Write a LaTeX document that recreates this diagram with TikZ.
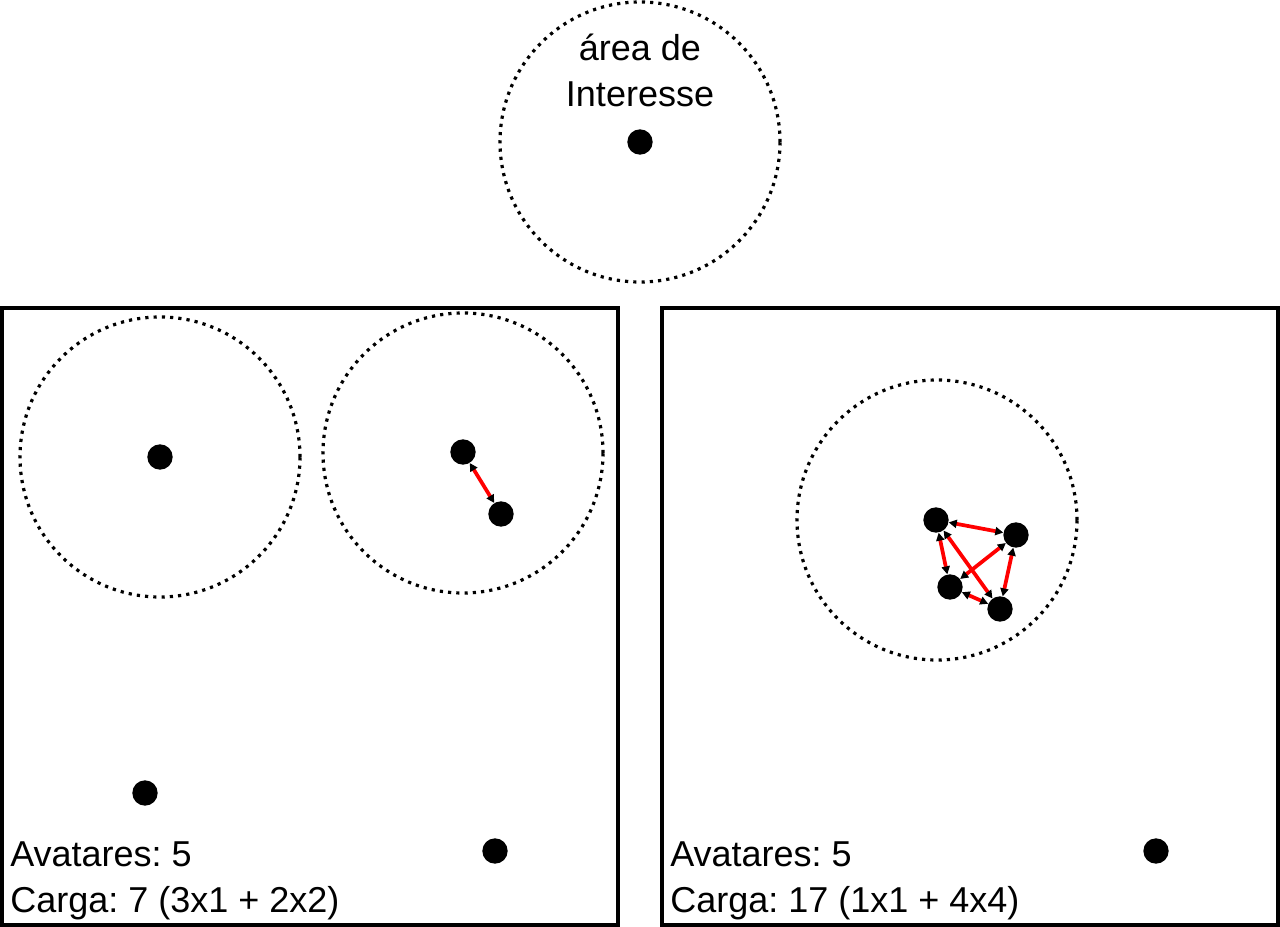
\documentclass[tikz,border=0pt]{standalone}
\usepackage{fontspec}
\setmainfont{Liberation Sans}
\frenchspacing
\usetikzlibrary{arrows.meta,positioning}

\tikzset{
  avatar/.style={circle,fill=black,minimum size=19pt,inner sep=0pt},
  aoi/.style={draw=black,line width=2.4pt,dash pattern=on 2.4pt off 3.8pt},
  caixa/.style={draw=black,line width=2.6pt},
  troca/.style={red,line width=2.8pt,{Triangle[black,length=6pt,width=6pt]}-{Triangle[black,length=6pt,width=6pt]}},
  rotulo/.style={anchor=base west,inner sep=0pt,font=\fontsize{27}{32}\selectfont}
}

\begin{document}
\begin{tikzpicture}[x=0.75pt,y=-0.75pt]
  \useasboundingbox (0,0) rectangle (1280,927);

  % legenda
  \draw[aoi] (640,142) circle[radius=105pt];
  \node[avatar] (c0) at (640,142) {};
  \node[rotulo,anchor=base] (t1) at (640,61) {área de};
  \node[rotulo,anchor=base] (t2) at (640,107) {Interesse};

  % caixa esquerda
  \draw[caixa] (2,308) rectangle (618,925);
  \draw[aoi] (160,457) circle[radius=105pt];
  \draw[aoi] (463,453) circle[radius=105pt];
  \node[avatar] (l1) at (160,457) {};
  \node[avatar] (l2) at (463,452) {};
  \node[avatar] (l3) at (501,514) {};
  \node[avatar] (l4) at (145,793) {};
  \node[avatar] (l5) at (495,851) {};
  \draw[troca] (l2) -- (l3);
  \node[rotulo] (la) at (10,866) {Avatares: 5};
  \node[rotulo] (lb) at (10,912) {Carga: 7 (3x1 + 2x2)};

  % caixa direita
  \draw[caixa] (662,308) rectangle (1278,925);
  \draw[aoi] (937,520) circle[radius=105pt];
  \node[avatar] (r1) at (936,520) {};
  \node[avatar] (r2) at (1016,535) {};
  \node[avatar] (r3) at (950,587) {};
  \node[avatar] (r4) at (1000,609) {};
  \node[avatar] (r5) at (1156,851) {};
  \draw[troca] (r1) -- (r2);
  \draw[troca] (r1) -- (r3);
  \draw[troca] (r1) -- (r4);
  \draw[troca] (r2) -- (r3);
  \draw[troca] (r2) -- (r4);
  \draw[troca] (r3) -- (r4);
  \node[rotulo] (ra) at (670,866) {Avatares: 5};
  \node[rotulo] (rb) at (670,912) {Carga: 17 (1x1 + 4x4)};
\end{tikzpicture}
\end{document}
